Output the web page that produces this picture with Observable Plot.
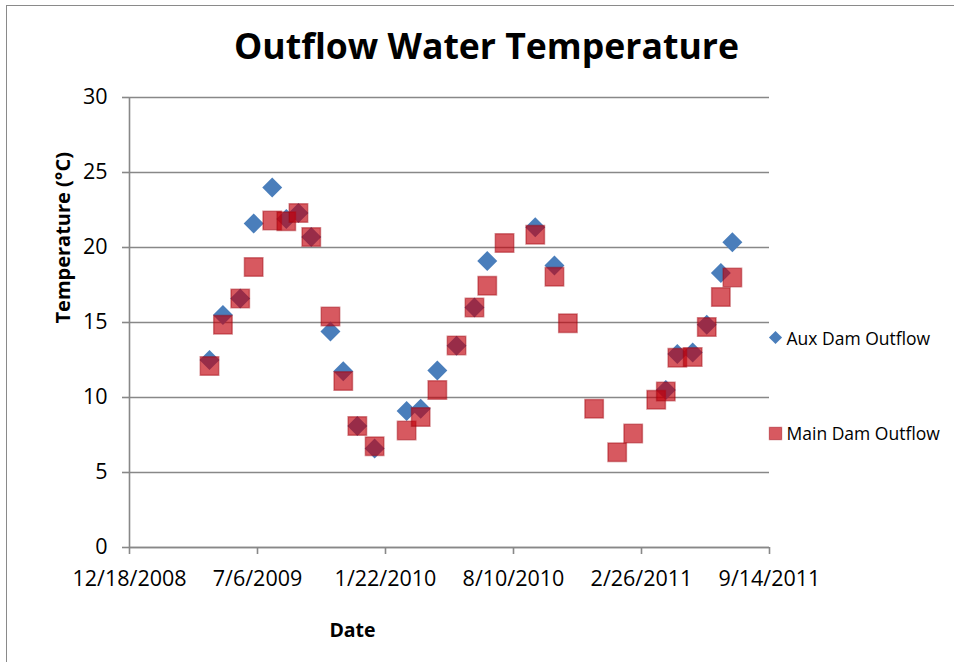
<!DOCTYPE html>
<html>
<head>
<meta charset="utf-8">
<script src="https://cdn.jsdelivr.net/npm/d3@7"></script>
<script src="https://cdn.jsdelivr.net/npm/@observablehq/plot@0.6"></script>
<style>
  html, body { margin: 0; padding: 0; background: #fff; }
  #wrap { position: relative; width: 954px; height: 662px; overflow: hidden; background: #fff; }
  #border { position: absolute; left: 5.5px; top: 4.5px; width: 1000px; height: 700px;
            border-left: 1.6px solid #8a8a8a; border-top: 1.6px solid #8a8a8a; pointer-events: none; }
  #wrap svg { position: absolute; left: 0; top: 0; }
</style>
</head>
<body>
<div id="wrap"><div id="border"></div></div>
<script>
// ---- data ----
const title = "Outflow Water Temperature";
const xLabel = "Date";
const yLabel = "Temperature (°C)";
const seriesNames = ["Aux Dam Outflow", "Main Dam Outflow"];

const sampleDates = [
  "2009-04-22", "2009-05-13", "2009-06-09", "2009-06-30", "2009-07-29", "2009-08-20",
  "2009-09-08", "2009-09-28", "2009-10-28", "2009-11-17", "2009-12-09", "2010-01-05",
  "2010-02-24", "2010-03-18", "2010-04-13", "2010-05-13", "2010-06-10", "2010-06-30",
  "2010-07-27", "2010-09-13", "2010-10-13", "2010-11-03", "2010-12-14", "2011-01-19",
  "2011-02-13", "2011-03-21", "2011-04-05", "2011-04-23", "2011-05-17", "2011-06-08",
  "2011-06-30", "2011-07-18"
];
const auxTemp = [
  12.5, 15.5, 16.6, 21.6, 24.0, 21.9,
  22.3, 20.7, 14.4, 11.75, 8.1, 6.6,
  9.1, 9.25, 11.8, 13.45, 16.0, 19.1,
  null, 21.35, 18.8, null, null, null,
  null, null, 10.5, 12.9, 13.0, 14.85,
  18.3, 20.35
];
const mainTemp = [
  12.1, 14.85, 16.6, 18.7, 21.8, 21.75,
  22.3, 20.7, 15.4, 11.1, 8.1, 6.75,
  7.8, 8.7, 10.5, 13.47, 16.0, 17.45,
  20.3, 20.85, 18.05, 14.95, 9.25, 6.35,
  7.6, 9.85, 10.4, 12.65, 12.7, 14.7,
  16.7, 18.0
];
const xTickDates = ["2008-12-18", "2009-07-06", "2010-01-22", "2010-08-10", "2011-02-26", "2011-09-14"];
const yTicks = [0, 5, 10, 15, 20, 25, 30];

// ---- build tables ----
const parse = s => new Date(s + "T00:00:00Z");
const auxData = sampleDates.map((d, i) => ({date: parse(d), temp: auxTemp[i]})).filter(d => d.temp != null);
const mainData = sampleDates.map((d, i) => ({date: parse(d), temp: mainTemp[i]})).filter(d => d.temp != null);
const xTicks = xTickDates.map(parse);
const xDomain = [xTicks[0], xTicks[xTicks.length - 1]];

const blue = "#4A7EBB";
const redFill = "rgb(194,0,10)";
const redStroke = "rgb(160,0,10)";
const grid = "#888888";
const font = "'Open Sans', 'DejaVu Sans', sans-serif";

const chart = Plot.plot({
  width: 954,
  height: 662,
  marginLeft: 129,
  marginRight: 185,
  marginTop: 97,
  marginBottom: 115,
  style: {fontFamily: font, background: "transparent", overflow: "visible"},
  x: {type: "utc", domain: xDomain, axis: null},
  y: {domain: [0, 30], axis: null},
  marks: [
    Plot.gridY(yTicks, {stroke: grid, strokeOpacity: 1, strokeWidth: 1.6}),
    Plot.ruleX([xDomain[0]], {stroke: grid, strokeWidth: 1.6}),
    Plot.ruleY([0], {stroke: grid, strokeWidth: 1.6}),
    Plot.axisY(yTicks, {
      anchor: "left", tickSize: 7, tickPadding: 15, stroke: grid, strokeWidth: 1.6,
      fill: "#000", fontSize: 21.5, label: null
    }),
    Plot.axisX(xTicks, {
      anchor: "bottom", tickSize: 7, tickPadding: 16, stroke: grid, strokeWidth: 1.6,
      fill: "#000", fontSize: 21.5, label: null, tickFormat: d3.utcFormat("%-m/%-d/%Y")
    }),
    // series
    Plot.dot(auxData, {x: "date", y: "temp", symbol: "diamond2", r: 9, fill: blue, stroke: "none"}),
    Plot.dot(mainData, {x: "date", y: "temp", symbol: "square", r: 10.4,
      fill: redFill, fillOpacity: 0.65, stroke: redStroke, strokeOpacity: 0.45, strokeWidth: 1.5}),
    // title & axis labels
    Plot.text([title], {frameAnchor: "top", dx: 37, dy: -39, lineAnchor: "bottom",
      fontSize: 35.6, fontWeight: "bold", fill: "#000"}),
    Plot.text([xLabel], {frameAnchor: "bottom", dx: -97, dy: 89, lineAnchor: "bottom",
      fontSize: 19.5, fontWeight: "bold", fill: "#000"}),
    Plot.text([yLabel], {frameAnchor: "left", dx: -60, dy: 1, rotate: -90, lineAnchor: "bottom",
      fontSize: 20, fontWeight: "bold", fill: "#000"}),
    // legend
    Plot.dot([seriesNames[0]], {frameAnchor: "right", dx: 6, dy: 15, symbol: "diamond2", r: 5.9, fill: blue}),
    Plot.dot([seriesNames[1]], {frameAnchor: "right", dx: 6, dy: 111, symbol: "square", r: 6.9,
      fill: redFill, fillOpacity: 0.65, stroke: redStroke, strokeOpacity: 0.45, strokeWidth: 1.2}),
    Plot.text([seriesNames[0]], {frameAnchor: "right", dx: 17, dy: 22.3, textAnchor: "start", lineAnchor: "bottom",
      fontSize: 17.5, fill: "#000"}),
    Plot.text([seriesNames[1]], {frameAnchor: "right", dx: 17, dy: 117.3, textAnchor: "start", lineAnchor: "bottom",
      fontSize: 17.5, fill: "#000"})
  ]
});
document.getElementById("wrap").appendChild(chart);
</script>
</body>
</html>
